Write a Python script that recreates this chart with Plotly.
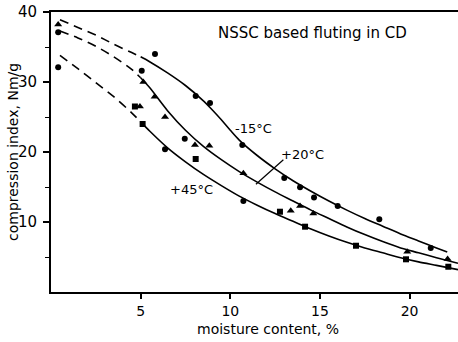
import plotly.graph_objects as go

# Fitted curves
top_x = [0.5, 1.5, 2.5, 3.5, 4.5, 5.0, 5.5, 6.5, 7.5, 8.5, 9.0, 9.5, 10.0, 10.5, 11.5, 12.5, 13.5, 14.5, 15.5, 16.5, 17.5, 18.5, 19.5, 20.5, 21.5, 22.1]
top_y = [38.9, 37.8, 36.7, 35.4, 34.2, 33.6, 32.9, 31.3, 29.5, 27.3, 26.0, 24.6, 23.1, 21.7, 19.5, 17.6, 15.9, 14.4, 13.0, 11.7, 10.5, 9.4, 8.3, 7.3, 6.3, 5.7]

mid_x = [0.5, 1.5, 2.5, 3.5, 4.5, 5.0, 5.5, 6.5, 7.5, 8.5, 9.5, 10.5, 11.5, 12.5, 13.5, 14.5, 15.5, 16.5, 17.5, 18.5, 19.5, 20.5, 21.5, 22.7]
mid_y = [37.3, 36.3, 35.1, 33.6, 31.8, 30.6, 29.2, 25.9, 23.1, 20.8, 18.9, 17.2, 15.7, 14.3, 13.0, 11.7, 10.5, 9.3, 8.2, 7.2, 6.3, 5.6, 4.9, 4.1]

bot_x = [0.5, 1.5, 2.5, 3.5, 4.5, 5.0, 5.5, 6.5, 7.5, 8.5, 9.5, 10.5, 11.5, 12.5, 13.5, 14.5, 15.5, 16.5, 17.5, 18.5, 19.5, 20.5, 21.5, 22.7]
bot_y = [33.8, 31.9, 29.9, 27.9, 25.6, 24.3, 23.0, 20.6, 18.6, 16.8, 15.2, 13.7, 12.4, 11.2, 10.1, 9.0, 8.0, 7.1, 6.3, 5.6, 4.9, 4.3, 3.8, 3.2]

# Measured points
circle_x = [0.4, 0.4, 5.06, 5.8, 6.36, 7.46, 8.07, 8.87, 10.67, 10.73, 13.01, 13.89, 14.67, 15.99, 18.31, 21.18]
circle_y = [37.1, 32.1, 31.6, 34.0, 20.4, 21.9, 28.0, 27.0, 21.0, 13.0, 16.3, 14.96, 13.5, 12.3, 10.4, 6.3]
triangle_x = [0.4, 4.96, 5.15, 5.78, 6.36, 8.03, 8.83, 10.73, 13.37, 13.89, 14.63, 19.87, 22.12]
triangle_y = [38.2, 26.5, 30.0, 27.9, 25.0, 21.0, 20.9, 16.96, 11.6, 12.3, 11.2, 5.76, 4.71]
square_x = [4.68, 5.11, 8.07, 12.77, 14.17, 17.01, 19.8, 22.16]
square_y = [26.5, 24.0, 19.0, 11.47, 9.33, 6.61, 4.67, 3.61]

x_ticks = [5, 10, 15, 20]
y_ticks = [10, 20, 30, 40]
y_minor = [5, 15, 25, 35]
curve_labels = ["-15°C", "+20°C", "+45°C"]
title_text = "NSSC based fluting in CD"
x_title = "moisture content, %"
y_title = "compression index, Nm/g"

SPLIT = 5.0
FONT = "DejaVu Sans"

fig = go.Figure()

for cx, cy in [(top_x, top_y), (mid_x, mid_y), (bot_x, bot_y)]:
    i = cx.index(SPLIT)
    fig.add_trace(go.Scatter(x=cx[:i + 1], y=cy[:i + 1], mode="lines",
                             line=dict(color="black", width=1.6, dash="9px,6px",
                                       shape="spline", smoothing=0.8),
                             hoverinfo="skip", showlegend=False))
    fig.add_trace(go.Scatter(x=cx[i:], y=cy[i:], mode="lines",
                             line=dict(color="black", width=1.6, shape="spline", smoothing=0.8),
                             hoverinfo="skip", showlegend=False))

fig.add_trace(go.Scatter(x=circle_x, y=circle_y, mode="markers",
                         marker=dict(symbol="circle", size=6, color="black"), showlegend=False))
fig.add_trace(go.Scatter(x=triangle_x, y=triangle_y, mode="markers",
                         marker=dict(symbol="triangle-up", size=7, color="black"), showlegend=False))
fig.add_trace(go.Scatter(x=square_x, y=square_y, mode="markers",
                         marker=dict(symbol="square", size=6, color="black"), showlegend=False))

# leader line for +20°C
fig.add_shape(type="line", x0=12.96, y0=18.9, x1=11.43, y1=15.4,
              line=dict(color="black", width=1.2))

annos = [
    dict(x=11.32, y=23.4, text=curve_labels[0]),
    dict(x=14.05, y=19.7, text=curve_labels[1]),
    dict(x=7.81, y=14.7, text=curve_labels[2]),
    dict(x=14.6, y=37.0, text=title_text, font=dict(size=15, family=FONT, color="black")),
]
for a in annos:
    fig.add_annotation(x=a["x"], y=a["y"], text=a["text"], showarrow=False,
                       xanchor="center", yanchor="middle",
                       font=a.get("font", dict(size=13, family=FONT, color="black")))

fig.add_annotation(xref="paper", yref="paper", x=0.533, y=0, yshift=-37,
                   text=x_title, showarrow=False, xanchor="center", yanchor="middle",
                   font=dict(size=14, family=FONT, color="black"))
fig.add_annotation(xref="paper", yref="paper", x=0, y=0.5, xshift=-38,
                   text=y_title, showarrow=False, textangle=-90,
                   xanchor="center", yanchor="middle",
                   font=dict(size=14, family=FONT, color="black"))

fig.update_layout(
    width=458, height=342,
    margin=dict(l=51, r=0, t=12, b=50, autoexpand=False),
    paper_bgcolor="white", plot_bgcolor="white",
    font=dict(family=FONT, size=14, color="black"),
    showlegend=False,
)
fig.update_xaxes(range=[0, 22.7], tickvals=x_ticks, ticktext=[str(v) for v in x_ticks],
                 ticks="outside", ticklen=5, tickwidth=1.5, tickcolor="black",
                 ticklabelstandoff=0, automargin=False,
                 showline=True, linecolor="black", linewidth=1.8, mirror=True,
                 showgrid=False, zeroline=False, tickfont=dict(size=14, family=FONT))
fig.update_yaxes(range=[0, 40], tickvals=y_ticks, ticktext=[str(v) for v in y_ticks],
                 ticks="outside", ticklen=6, tickwidth=1.5, tickcolor="black",
                 ticklabelstandoff=3, automargin=False,
                 minor=dict(tickvals=y_minor, ticks="outside", ticklen=4,
                            tickwidth=1.2, tickcolor="black"),
                 showline=True, linecolor="black", linewidth=1.8,
                 showgrid=False, zeroline=False, tickfont=dict(size=15, family=FONT))

fig.write_html("out.html", config={"displayModeBar": False},
               post_script="document.body.style.margin='0';document.body.style.overflow='hidden';")
